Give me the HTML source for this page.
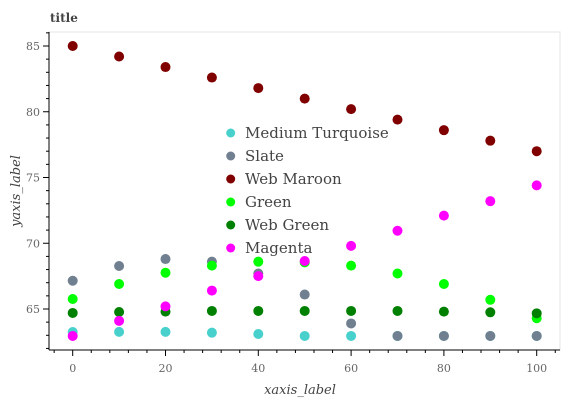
<!DOCTYPE html>
<html><head><meta charset="utf-8"><style>
body{margin:0;background:#fff;}
svg text{font-family:"DejaVu Serif","Liberation Serif",serif;}
</style></head><body>
<svg id="c" width="565" height="400" xmlns="http://www.w3.org/2000/svg"></svg>
<script>
const xs=[0,10,20,30,40,50,60,70,80,90,100];
const medTurq=[63.25,63.26,63.26,63.2,63.1,62.95,62.95,62.95,62.95,62.95,62.95];
const slate=[67.15,68.27,68.8,68.6,67.7,66.1,63.9,62.95,62.95,62.95,62.95];
const webMaroon=[85,84.2,83.4,82.6,81.8,81.0,80.2,79.4,78.6,77.8,77.0];
const green=[65.76,66.9,67.76,68.3,68.6,68.55,68.3,67.7,66.9,65.7,64.3];
const webGreen=[64.7,64.77,64.8,64.85,64.85,64.85,64.85,64.85,64.8,64.75,64.67];
const magenta=[62.95,64.1,65.2,66.4,67.5,68.65,69.8,70.95,72.1,73.2,74.4];
const yTicks=[65,70,75,80,85];
const xTicks=[0,20,40,60,80,100];
const NS="http://www.w3.org/2000/svg";
const svg=document.getElementById('c');
const L=49,R=560,T=32,B=350;
function sx(v){return 72.7+(v-0)*4.64;}
function sy(v){return 46+(85-v)*13.15;}
function el(t,a,p){const e=document.createElementNS(NS,t);for(const k in a)e.setAttribute(k,a[k]);(p||svg).appendChild(e);return e;}
let e;
e=el('rect',{x:L,y:T,width:R-L,height:B-T,fill:'none',stroke:'#e5e5e5'});


e=el('text',{x:50,y:22,'font-size':12,'font-weight':'bold',fill:'#444'});e.textContent='title';


e=el('line',{x1:L,y1:T,x2:L,y2:B,stroke:'#000'});


e=el('line',{x1:L,y1:B,x2:R,y2:B,stroke:'#000'});


for(let v=62;v<=86;v++){const y=sy(v);const maj=yTicks.includes(v);
 e=el('line',{x1:L-(maj?6:3),y1:y,x2:L,y2:y,stroke:'#000'});
 
 }
yTicks.forEach(v=>{e=el('text',{x:L-9,y:sy(v)+4,'font-size':11,fill:'#666','text-anchor':'end'});e.textContent=v;
 
 });
for(let v=-4;v<=104;v+=4){const x=sx(v);const maj=xTicks.includes(v);
 e=el('line',{x1:x,y1:B,x2:x,y2:B+(maj?6:3),stroke:'#000'});
 
 }
xTicks.forEach(v=>{e=el('text',{x:sx(v),y:B+22,'font-size':11,fill:'#666','text-anchor':'middle'});e.textContent=v;
 
 });
e=el('text',{x:300,y:394,'font-size':13,'font-style':'italic',fill:'#444','text-anchor':'middle'});e.textContent='xaxis_label';


e=el('text',{x:0,y:0,'font-size':13,'font-style':'italic',fill:'#444','text-anchor':'middle',transform:'translate(20,191) rotate(-90)'});e.textContent='yaxis_label';


const series=[['Medium Turquoise','#48d1cc',medTurq],['Slate','#708090',slate],['Web Maroon','#800000',webMaroon],['Green','#00ff00',green],['Web Green','#008000',webGreen],['Magenta','#ff00ff',magenta]];
series.forEach(([n,c,d])=>{const g=el('g',{});
 
 
 d.forEach((v,i)=>{e=el('circle',{cx:sx(xs[i]),cy:sy(v),r:5,fill:c},g);
  
  });});
series.forEach(([n,c],i)=>{const y=133+i*23;
 e=el('circle',{cx:230.7,cy:y,r:4.5,fill:c});
 
 
 e=el('text',{x:245,y:y+5,'font-size':15,fill:'#444'});e.textContent=n;
 
 });
</script>
</body></html>
